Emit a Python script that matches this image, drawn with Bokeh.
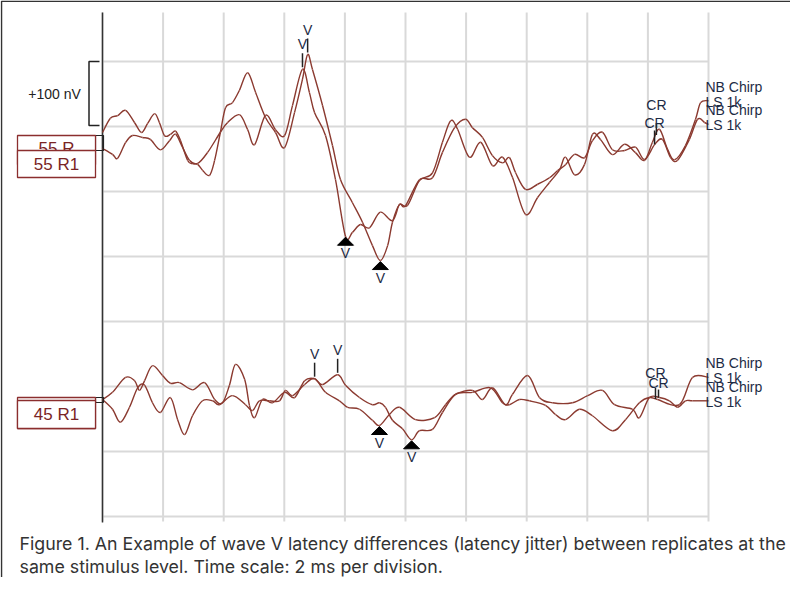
import numpy as np
from bokeh.plotting import figure
from bokeh.models import Range1d
from bokeh.core.properties import value
from bokeh.embed import file_html
from bokeh.resources import INLINE

# ---------------- data (time in ms, amplitude in nV relative to trace start) -------------
r55_t = [0.00, 0.26, 0.50, 0.76, 1.06, 1.29, 1.49, 1.72, 1.88, 2.05, 2.24, 2.41, 2.57, 2.81, 2.97,
         3.14, 3.30, 3.53, 3.70, 3.89, 4.06, 4.29, 4.52, 4.79, 5.05, 5.38, 5.71, 6.01, 6.34, 6.60,
         6.77, 6.93, 7.26, 7.59, 7.85, 8.25, 8.58, 8.91, 9.17, 9.41, 9.57, 9.80, 10.07, 10.46, 10.89,
         11.22, 11.49, 11.72, 12.11, 12.48, 12.87, 13.20, 13.53, 13.96, 14.36, 14.75, 15.08, 15.28,
         15.58, 15.91, 16.17, 16.44, 16.83, 17.23, 17.59, 17.89, 18.15, 18.38, 18.65, 18.88, 19.24,
         19.57, 19.74, 20.00]
r55_nv = [0, 22, 26, 34, 15, 0, 14, 29, 15, -5, -3, 2, -12, -43, -48,
          -49, -58, -66, -43, 0, 38, 46, 65, 92, 62, 23, 0, -23, 31, 82,
          120, 97, 42, -20, -72, -108, -138, -174, -197, -174, -138, -111, -112, -74, -62,
          -15, 18, 5, -38, -15, -51, -38, -69, -126, -100, -77, -58, -38,
          -65, -49, -3, -11, -34, -18, -31, -43, -15, 5, -26, -42, -20,
          20, 46, 49]

r55b_t = [0.00, 0.33, 0.50, 0.76, 0.99, 1.32, 1.58, 1.91, 2.21, 2.41, 2.64, 2.87, 3.14, 3.47, 3.89,
          4.13, 4.52, 4.79, 5.02, 5.38, 5.71, 6.01, 6.27, 6.60, 6.83, 7.00, 7.36, 7.69, 8.02, 8.25,
          8.51, 8.81, 9.17, 9.57, 9.80, 10.00, 10.46, 10.89, 11.22, 11.62, 11.98, 12.21, 12.54, 12.87,
          13.20, 13.43, 13.63, 13.96, 14.36, 14.75, 15.02, 15.28, 15.58, 15.91, 16.17, 16.50, 16.83,
          17.23, 17.59, 17.89, 18.22, 18.48, 18.75, 18.98, 19.37, 19.64, 19.87, 20.00]
r55b_nv = [0, -9, -15, 9, 20, 17, 14, -2, 12, 22, 2, -18, -23, -6, 25,
           40, 52, 29, 6, 51, 29, 20, 66, 122, 86, 55, 20, -48, -135, -129,
           -117, -122, -98, -111, -86, -88, -48, -45, -6, 32, 45, 32, 17, -11,
           -22, -14, -37, -63, -55, -45, -34, -25, -9, -14, 12, 25, -2,
           -3, 2, -17, 6, 14, -14, -18, 14, 45, 40, 37]

r45_t = [0.00, 0.33, 0.76, 1.06, 1.22, 1.39, 1.65, 1.98, 2.24, 2.54, 2.97, 3.37, 3.70, 3.96, 4.19,
         4.39, 4.69, 4.85, 5.02, 5.28, 5.61, 6.01, 6.34, 6.67, 7.00, 7.26, 7.76, 8.02, 8.48, 8.91,
         9.14, 9.34, 9.57, 9.90, 10.20, 10.46, 10.89, 11.22, 11.65, 12.21, 12.81, 13.20, 13.43, 13.76,
         14.09, 14.62, 14.95, 15.28, 15.74, 16.17, 16.83, 17.26, 17.72, 18.05, 18.32, 19.04, 19.47, 20.00]
r45_nv = [0, 11, 34, 29, 14, 29, 52, 37, 25, 26, 15, 26, 0, -5, 22,
          54, 31, -9, -28, 0, -5, 11, 3, 29, 32, 23, 38, 22, 3, -8,
          -5, -12, -32, -45, -62, -48, -46, -20, 8, 11, 18, -5, -8, 0,
          -2, -9, -23, -31, -15, -25, -48, -31, -5, 3, 0, -8, 34, 34]

r45b_t = [0.00, 0.33, 0.59, 0.89, 1.16, 1.39, 1.65, 1.91, 2.24, 2.48, 2.71, 2.97, 3.30, 3.63, 3.86,
          4.29, 4.72, 4.95, 5.18, 5.51, 5.84, 6.04, 6.27, 6.67, 7.00, 7.36, 7.82, 8.09, 8.48, 8.91,
          9.14, 9.47, 9.80, 10.33, 10.96, 11.32, 11.65, 12.21, 12.54, 12.87, 13.30, 13.53, 14.03,
          14.42, 14.85, 15.51, 16.01, 16.50, 16.90, 17.49, 17.72, 18.05, 18.38, 18.71, 18.98, 19.24,
          19.47, 20.00]
r45b_nv = [0, -15, -35, -12, 18, 22, -5, -20, 3, -31, -54, -25, -2, -2, -8,
           6, -8, -17, -2, -2, -2, 14, 6, 23, 32, 11, -2, -12, -15, -32,
           -40, -23, -12, -31, -28, -8, 8, 14, 0, 18, -8, 8, 37,
           3, -5, -5, 6, 14, -8, -15, -28, 3, 3, -2, -12, -2,
           -2, -2]

trace_names = ["55 R", "55 R1", "45 R", "45 R1"]
end_labels = ["NB Chirp", "LS 1k"]

# markers: trace index, time (ms), text, kind
marker_trace = [0, 1, 0, 1, 0, 1, 2, 3, 2, 3, 2, 3]
marker_time = [6.77, 6.60, 9.17, 8.02, 18.28, 18.22, 7.76, 7.00, 10.20, 9.14, 18.25, 18.35]
marker_text = ["V", "V", "V", "V", "CR", "CR", "V", "V", "V", "V", "CR", "CR"]
marker_kind = ["peak", "peak", "trough", "trough", "cr", "cr", "peak", "peak", "trough", "trough", "cr", "cr"]

grid_ms = [0, 2, 4, 6, 8, 10, 12, 14, 16, 18, 20]
grid_nv = [0, 100, 200, 300, 400, 500, 600, 700]

caption = ["Figure 1. An Example of wave V latency differences (latency jitter) between replicates at the",
           "same stimulus level. Time scale: 2 ms per division."]

# ---------------- layout helpers (page pixels -> data) -------------
W, H = 790, 577
PX_MS = 30.3
PX_NV = 0.65


def X(px):
    return (px - 110) / PX_MS


def Y(py):
    return (524 - py) / PX_NV


def DY(n):
    return n / PX_NV


def DX(n):
    return n / PX_MS


TRACE = "#8b3a30"
INK = "#1d2b45"
FONT = value("Liberation Sans")

p = figure(width=W, height=H, x_range=Range1d(X(8), X(798)), y_range=Range1d(Y(585), Y(8)),
           output_backend="svg", toolbar_location=None, min_border=0,
           x_axis_type=None, y_axis_type=None, outline_line_color=None)
p.grid.visible = False
p.background_fill_color = "white"
p.border_fill_color = "white"

# outer border (top + left)
p.line([X(9), X(9), X(800)], [Y(600), Y(8.7), Y(8.7)], line_color="#333333", line_width=1.5)

# grid
p.segment(x0=grid_ms, x1=grid_ms, y0=[Y(529)] * len(grid_ms), y1=[Y(20)] * len(grid_ms),
          line_color="#d9d9d9", line_width=2)
p.segment(x0=[0] * len(grid_nv), x1=[20] * len(grid_nv), y0=grid_nv, y1=grid_nv,
          line_color="#d9d9d9", line_width=2)
# axis line
p.segment(x0=[0], x1=[0], y0=[Y(530)], y1=[Y(20)], line_color="#333333", line_width=1.5)

# scale bar
p.line([X(107), X(96.5), X(96.5), X(107)], [Y(69), Y(69), Y(133), Y(133)], line_color="#222222", line_width=1.5)
p.text(x=[X(62)], y=[Y(101)], text=["+100 nV"], text_font=FONT, text_font_size="14px",
       text_color="#222222", text_align="center", text_baseline="middle")

# traces, drawn as smooth curves through the read points (Catmull-Rom as cubic Beziers)
traces = [(r55_t, r55_nv, Y(140)), (r55b_t, r55b_nv, Y(156)),
          (r45_t, r45_nv, Y(407)), (r45b_t, r45b_nv, Y(407))]
trace_y = []
for t, nv, base in traces:
    xs = np.array(t, dtype=float)
    ys = base + np.array(nv, dtype=float)
    trace_y.append(ys)
    xp = np.concatenate([[xs[0]], xs, [xs[-1]]])
    yp = np.concatenate([[ys[0]], ys, [ys[-1]]])
    n = len(xs) - 1
    x0, y0 = xp[1:n + 1], yp[1:n + 1]
    x1, y1 = xp[2:n + 2], yp[2:n + 2]
    cx0 = x0 + (xp[2:n + 2] - xp[0:n]) / 6.0
    cy0 = y0 + (yp[2:n + 2] - yp[0:n]) / 6.0
    cx1 = x1 - (xp[3:n + 3] - xp[1:n + 1]) / 6.0
    cy1 = y1 - (yp[3:n + 3] - yp[1:n + 1]) / 6.0
    p.bezier(x0=x0, y0=y0, x1=x1, y1=y1, cx0=cx0, cy0=cy0, cx1=cx1, cy1=cy1,
             line_color=TRACE, line_width=1.4)

# end labels
lx, ly, lt = [], [], []
for (t, nv, base), ys in zip(traces, trace_y):
    lx += [X(713), X(713)]
    ly += [ys[-1] + DY(14), ys[-1] - DY(1)]
    lt += end_labels
p.text(x=lx, y=ly, text=lt, text_font=FONT, text_font_size="14px", text_color=INK,
       text_align="left", text_baseline="middle")

# markers
cr_label_off = {4: 30, 5: 22, 10: 26, 11: 15}
cr_tick_len = {4: 12, 5: 14, 10: 11, 11: 8}
tick_x0, tick_y0, tick_x1, tick_y1 = [], [], [], []
txt_x, txt_y, txt_t = [], [], []
tri_xs, tri_ys = [], []
for i, (ti, tm, tx, kd) in enumerate(zip(marker_trace, marker_time, marker_text, marker_kind)):
    t, nv, base = traces[ti]
    yv = float(np.interp(tm, t, trace_y[ti]))
    if kd == "peak":
        tick_x0.append(tm); tick_x1.append(tm)
        tick_y0.append(yv + DY(2)); tick_y1.append(yv + DY(16))
        txt_x.append(tm); txt_y.append(yv + DY(25)); txt_t.append(tx)
    elif kd == "trough":
        tri_xs.append([tm, tm - DX(8), tm + DX(8)])
        tri_ys.append([yv - DY(1), yv - DY(9), yv - DY(9)])
        txt_x.append(tm); txt_y.append(yv - DY(17)); txt_t.append(tx)
    else:
        tick_x0.append(tm); tick_x1.append(tm)
        tick_y0.append(yv); tick_y1.append(yv + DY(cr_tick_len[i]))
        txt_x.append(tm); txt_y.append(yv + DY(cr_label_off[i])); txt_t.append(tx)
p.segment(x0=tick_x0, y0=tick_y0, x1=tick_x1, y1=tick_y1, line_color="#222222", line_width=1.5)
p.patches(xs=tri_xs, ys=tri_ys, fill_color="black", line_color="black")
p.text(x=txt_x, y=txt_y, text=txt_t, text_font=FONT, text_font_size="14px", text_color=INK,
       text_align="center", text_baseline="middle")

# trace name boxes
BOX = "#8b2e2e"
# top pair
p.quad(left=[X(103)], right=[X(111)], top=[Y(143)], bottom=[Y(158)], fill_color=None, line_color="#222222", line_width=1.2)
p.quad(left=[X(25)], right=[X(103)], top=[Y(143)], bottom=[Y(172)], fill_color="white", line_color=BOX, line_width=1.3)
p.text(x=[X(64)], y=[Y(156)], text=[trace_names[0]], text_font=FONT, text_font_size="17px",
       text_color="#7a2424", text_align="center", text_baseline="middle")
p.quad(left=[X(25)], right=[X(103)], top=[Y(158)], bottom=[Y(185)], fill_color="white", line_color=BOX, line_width=1.3)
p.text(x=[X(64)], y=[Y(172)], text=[trace_names[1]], text_font=FONT, text_font_size="17px",
       text_color="#7a2424", text_align="center", text_baseline="middle")
# bottom pair
p.quad(left=[X(103)], right=[X(111)], top=[Y(405)], bottom=[Y(410)], fill_color=None, line_color="#222222", line_width=1.2)
p.quad(left=[X(25)], right=[X(103)], top=[Y(405)], bottom=[Y(436)], fill_color="white", line_color=BOX, line_width=1.3)
p.text(x=[X(64)], y=[Y(422)], text=[trace_names[2]], text_font=FONT, text_font_size="17px",
       text_color="#7a2424", text_align="center", text_baseline="middle")
p.quad(left=[X(25)], right=[X(103)], top=[Y(408)], bottom=[Y(436)], fill_color="white", line_color=BOX, line_width=1.3)
p.text(x=[X(64)], y=[Y(422)], text=[trace_names[3]], text_font=FONT, text_font_size="17px",
       text_color="#7a2424", text_align="center", text_baseline="middle")

# caption
p.text(x=[X(27), X(27)], y=[Y(551), Y(574)], text=caption, text_font=value("Inter"),
       text_font_size="17.8px", text_color="#333333", text_align="left", text_baseline="middle")

open("out.html", "w").write(file_html(p, INLINE))
